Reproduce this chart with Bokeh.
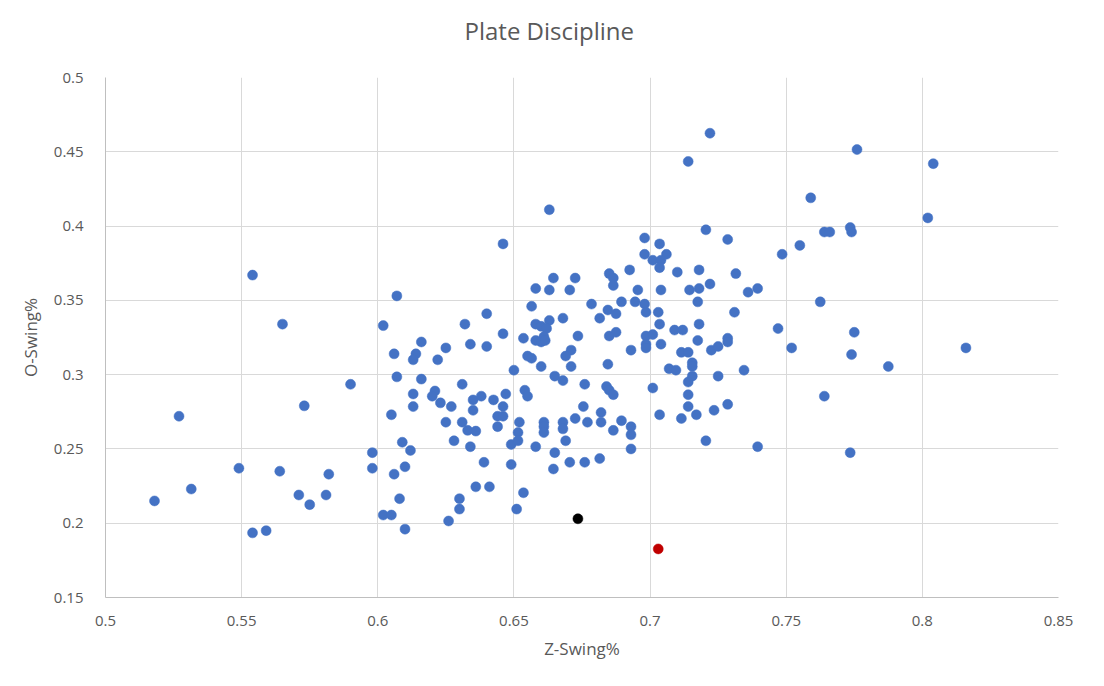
from bokeh.plotting import figure
from bokeh.models import Range1d, FixedTicker, Title
from bokeh.embed import file_html
from bokeh.resources import INLINE

# Z-Swing% (x) and O-Swing% (y) for the blue players
z_swing = [
    0.565, 0.590, 0.573, 0.527, 0.598, 0.549, 0.564, 0.598, 0.582, 0.5315, 0.518, 0.571, 0.581, 0.575, 0.554, 0.559, 0.554,
    0.607, 0.602, 0.640, 0.632, 0.646, 0.616, 0.606, 0.614, 0.613, 0.625, 0.622, 0.634, 0.640, 0.650, 0.607, 0.616,
    0.631, 0.613, 0.621, 0.620, 0.623, 0.613, 0.627, 0.635, 0.638, 0.6425, 0.647, 0.646, 0.635, 0.644, 0.646, 0.644,
    0.605, 0.625, 0.631, 0.633, 0.636, 0.628, 0.634, 0.649, 0.609, 0.612, 0.610, 0.606, 0.639, 0.649, 0.636, 0.641,
    0.608, 0.630, 0.630, 0.651, 0.602, 0.605, 0.626, 0.610,
    0.6565, 0.6785, 0.6895, 0.6945, 0.698, 0.6985, 0.6845, 0.6875, 0.6815, 0.668, 0.663, 0.658, 0.660, 0.662, 0.6535,
    0.658, 0.661, 0.660, 0.6615, 0.6735, 0.685, 0.6875, 0.6985, 0.6985, 0.6985, 0.693, 0.671, 0.669, 0.655, 0.6565,
    0.671, 0.660, 0.6845, 0.665, 0.668, 0.676, 0.684, 0.685, 0.6865, 0.654, 0.655, 0.6755, 0.682, 0.6725, 0.677, 0.682,
    0.6895, 0.693, 0.693, 0.6865, 0.652, 0.6515, 0.6515, 0.661, 0.661, 0.661, 0.668, 0.668, 0.669, 0.658, 0.665, 0.693,
    0.6645, 0.6705, 0.676, 0.6815, 0.6535,
    0.7175, 0.731, 0.747, 0.703, 0.7035, 0.718, 0.709, 0.712, 0.701, 0.704, 0.7175, 0.7285, 0.7285, 0.7225, 0.725,
    0.7115, 0.714, 0.7155, 0.7155, 0.707, 0.7095, 0.7345, 0.7155, 0.714, 0.725, 0.701, 0.714, 0.714, 0.717, 0.7035,
    0.7115, 0.7235, 0.7285, 0.7205, 0.7395,
    0.646,
    0.663, 0.698, 0.698, 0.6925, 0.6645, 0.6725, 0.685, 0.6865, 0.6865, 0.658, 0.663, 0.6705, 0.6955,
    0.722, 0.714, 0.7205, 0.7035, 0.7285, 0.706, 0.701, 0.704, 0.7035, 0.710, 0.718, 0.7315, 0.7485, 0.704, 0.7145,
    0.718, 0.722, 0.736, 0.7395,
    0.776, 0.804, 0.759, 0.802, 0.764, 0.766, 0.7735, 0.774, 0.755, 0.7625, 0.775, 0.752, 0.774, 0.7875, 0.816, 0.764,
    0.7735,
]
o_swing = [
    0.334, 0.2935, 0.279, 0.272, 0.2475, 0.237, 0.235, 0.237, 0.233, 0.223, 0.215, 0.219, 0.219, 0.2125, 0.1935, 0.195, 0.367,
    0.353, 0.333, 0.341, 0.334, 0.3275, 0.322, 0.314, 0.314, 0.310, 0.318, 0.310, 0.3205, 0.319, 0.303, 0.2985, 0.297,
    0.2935, 0.287, 0.289, 0.2855, 0.281, 0.2785, 0.2785, 0.283, 0.2855, 0.283, 0.287, 0.2785, 0.276, 0.272, 0.272, 0.265,
    0.273, 0.268, 0.268, 0.2625, 0.262, 0.2555, 0.2515, 0.253, 0.2545, 0.249, 0.238, 0.233, 0.241, 0.2395, 0.2245, 0.2245,
    0.2165, 0.2165, 0.2095, 0.2095, 0.2055, 0.2055, 0.2015, 0.196,
    0.346, 0.3475, 0.349, 0.349, 0.3475, 0.342, 0.3435, 0.341, 0.338, 0.338, 0.3365, 0.334, 0.3325, 0.331, 0.3245,
    0.323, 0.3255, 0.322, 0.323, 0.326, 0.326, 0.3285, 0.326, 0.3205, 0.318, 0.3165, 0.3165, 0.3125, 0.3125, 0.311,
    0.3055, 0.3055, 0.307, 0.299, 0.296, 0.2935, 0.292, 0.2895, 0.2865, 0.2895, 0.2855, 0.2785, 0.2745, 0.2705, 0.268, 0.268,
    0.269, 0.265, 0.2595, 0.2625, 0.268, 0.261, 0.2555, 0.268, 0.265, 0.261, 0.268, 0.2635, 0.2555, 0.2515, 0.2475, 0.250,
    0.2365, 0.241, 0.241, 0.2435, 0.2205,
    0.349, 0.342, 0.331, 0.342, 0.334, 0.334, 0.330, 0.330, 0.327, 0.3205, 0.323, 0.3245, 0.322, 0.3165, 0.319,
    0.315, 0.315, 0.308, 0.3055, 0.304, 0.303, 0.303, 0.299, 0.295, 0.299, 0.291, 0.2865, 0.2785, 0.273, 0.273,
    0.2705, 0.276, 0.280, 0.2555, 0.2515,
    0.388,
    0.411, 0.392, 0.381, 0.3705, 0.365, 0.365, 0.368, 0.365, 0.360, 0.358, 0.357, 0.357, 0.357,
    0.4625, 0.4435, 0.3975, 0.388, 0.391, 0.381, 0.377, 0.377, 0.372, 0.369, 0.3705, 0.368, 0.381, 0.357, 0.357,
    0.358, 0.361, 0.3555, 0.358,
    0.4515, 0.442, 0.419, 0.4055, 0.396, 0.396, 0.399, 0.396, 0.387, 0.349, 0.3285, 0.318, 0.3135, 0.3055, 0.318, 0.2855,
    0.2475,
]

# highlighted players
black_x = [0.6735]
black_y = [0.203]
red_x = [0.703]
red_y = [0.1827]

x_ticks = [0.5, 0.55, 0.6, 0.65, 0.7, 0.75, 0.8, 0.85]
x_tick_labels = ["0.5", "0.55", "0.6", "0.65", "0.7", "0.75", "0.8", "0.85"]
y_ticks = [0.15, 0.2, 0.25, 0.3, 0.35, 0.4, 0.45, 0.5]
y_tick_labels = ["0.15", "0.2", "0.25", "0.3", "0.35", "0.4", "0.45", "0.5"]

TITLE = "Plate Discipline"
TXT = "#595959"
FONT = "Open Sans"

p = figure(width=1096, height=678, output_backend="svg", toolbar_location=None,
           x_range=Range1d(0.5, 0.85), y_range=Range1d(0.15, 0.5),
           min_border_left=105, min_border_right=38, min_border_top=77, min_border_bottom=81)

p.title.text = TITLE
p.title.align = "left"
p.title.offset = 359
p.title.text_font = FONT
p.title.text_font_size = "24px"
p.title.text_font_style = "normal"
p.title.text_color = TXT
p.title.standoff = 18

# empty spacer between the title and the plot frame
p.add_layout(Title(text=" ", text_font_size="1px", standoff=19), "above")

p.outline_line_color = None
p.background_fill_color = "white"
p.border_fill_color = "white"

p.xaxis.ticker = FixedTicker(ticks=x_ticks)
p.yaxis.ticker = FixedTicker(ticks=y_ticks)
p.xaxis.major_label_overrides = dict(zip(x_ticks, x_tick_labels))
p.yaxis.major_label_overrides = dict(zip(y_ticks, y_tick_labels))

for ax in (p.xaxis, p.yaxis):
    ax.axis_line_color = "#bfbfbf"
    ax.axis_line_width = 1
    ax.major_tick_line_color = None
    ax.minor_tick_line_color = None
    ax.major_label_text_font = FONT
    ax.major_label_text_font_size = "15px"
    ax.major_label_text_color = TXT
    ax.axis_label_text_font = FONT
    ax.axis_label_text_font_size = "17px"
    ax.axis_label_text_font_style = "normal"
    ax.axis_label_text_color = TXT

p.xaxis.axis_label = "Z-Swing%"
p.yaxis.axis_label = "O-Swing%"
p.xaxis.major_label_standoff = 12
p.yaxis.major_label_standoff = 16
p.xaxis.axis_label_standoff = 8
p.yaxis.axis_label_standoff = 9

p.xgrid.grid_line_color = "#d9d9d9"
p.ygrid.grid_line_color = "#d9d9d9"
p.xgrid.grid_line_width = 1
p.ygrid.grid_line_width = 1

p.scatter(z_swing, o_swing, size=10, fill_color="#4472C4", line_color="#4472C4", line_width=0.5)
p.scatter(black_x, black_y, size=10, fill_color="#000000", line_color="#000000", line_width=0.5)
p.scatter(red_x, red_y, size=10, fill_color="#C00000", line_color="#C00000", line_width=0.5)

open("out.html", "w").write(file_html(p, INLINE))
